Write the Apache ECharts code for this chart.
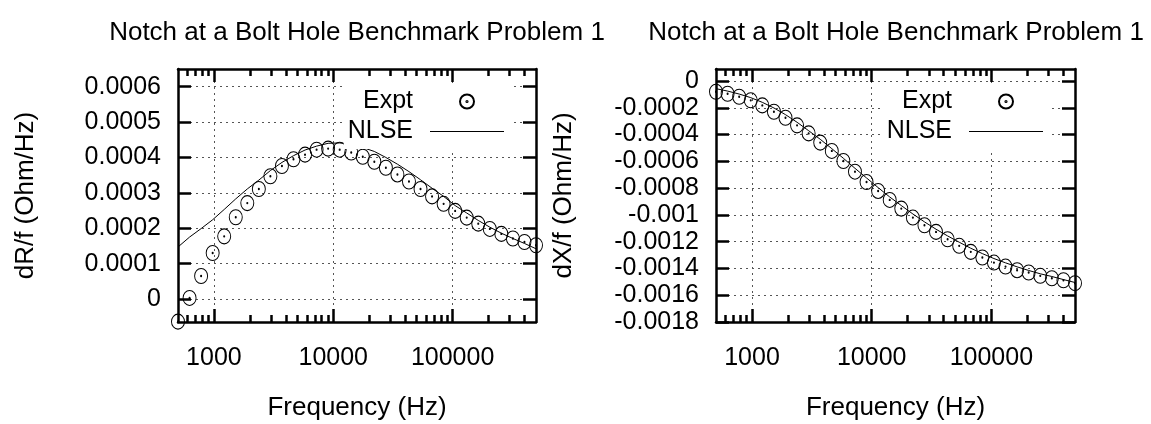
<!DOCTYPE html>
<html><head><meta charset="utf-8">
<script src="https://cdn.jsdelivr.net/npm/echarts@6/dist/echarts.min.js"></script>
<style>html,body{margin:0;padding:0;background:#fff}#c{width:1151px;height:424px}</style>
</head><body><div id="c"></div>
<script>
// ---- data ----
const freq = [500, 625, 781, 976, 1219, 1524, 1904, 2379, 2973, 3715, 4642, 5801, 7249, 9058, 11319, 14145, 17676, 22088, 27601, 34491, 43101, 53860, 67304, 84105, 105086, 131336, 164117, 205087, 256282, 320256, 400200, 500000];
const exptR = [-0.000064, 0.000003, 0.000065, 0.00013, 0.000177, 0.000231, 0.000271, 0.000311, 0.000347, 0.000376, 0.000395, 0.000408, 0.000422, 0.000425, 0.000422, 0.000414, 0.000402, 0.000388, 0.000371, 0.000352, 0.000332, 0.000311, 0.00029, 0.000269, 0.000249, 0.00023, 0.000213, 0.000198, 0.000184, 0.000171, 0.000161, 0.000152];
const nlseR = [0.000147, 0.000175, 0.000199, 0.000224, 0.000253, 0.000283, 0.000311, 0.000336, 0.000363, 0.000386, 0.000405, 0.000421, 0.000432, 0.00044, 0.000441, 0.000438, 0.000428, 0.000417, 0.0004, 0.000381, 0.00036, 0.000337, 0.000313, 0.00029, 0.000264, 0.000243, 0.000222, 0.000203, 0.000186, 0.000171, 0.000157, 0.000142];
const exptX = [-0.00008, -0.000095, -0.000117, -0.000144, -0.000182, -0.000229, -0.000274, -0.000331, -0.000391, -0.00046, -0.000522, -0.000597, -0.000677, -0.000754, -0.000821, -0.000888, -0.000953, -0.00102, -0.001077, -0.001127, -0.001182, -0.001231, -0.001276, -0.001318, -0.001356, -0.001386, -0.001413, -0.00143, -0.001455, -0.001473, -0.001488, -0.00151];
const nlseX = [-0.000057, -0.000075, -0.000097, -0.000124, -0.000159, -0.000201, -0.000251, -0.000308, -0.000371, -0.000435, -0.000505, -0.000577, -0.000652, -0.000724, -0.000796, -0.000866, -0.00093, -0.000993, -0.001052, -0.001107, -0.001157, -0.001204, -0.001249, -0.001289, -0.001326, -0.001358, -0.001388, -0.001415, -0.00144, -0.00146, -0.001483, -0.001505];

const xMajorTicks = [1000, 10000, 100000];
const xMajorLabels = ['1000', '10000', '100000'];
const xMinorTicks = [600, 700, 800, 900, 2000, 3000, 4000, 5000, 6000, 7000, 8000, 9000, 20000, 30000, 40000, 50000, 60000, 70000, 80000, 90000, 200000, 300000, 400000];
const yTicksR = [0, 0.0001, 0.0002, 0.0003, 0.0004, 0.0005, 0.0006];
const yLabelsR = ['0', '0.0001', '0.0002', '0.0003', '0.0004', '0.0005', '0.0006'];
const yTicksX = [-0.0018, -0.0016, -0.0014, -0.0012, -0.001, -0.0008, -0.0006, -0.0004, -0.0002, 0];
const yLabelsX = ['-0.0018', '-0.0016', '-0.0014', '-0.0012', '-0.001', '-0.0008', '-0.0006', '-0.0004', '-0.0002', '0'];
const titleText = 'Notch at a Bolt Hole Benchmark Problem 1';
const xName = 'Frequency (Hz)';
const yNameR = 'dR/f (Ohm/Hz)';
const yNameX = 'dX/f (Ohm/Hz)';
const seriesNames = ['Expt', 'NLSE'];

// ---- styling ----
const FONT = "'Liberation Sans', Arial, Helvetica, sans-serif";
const BLACK = '#000';
const FRAME_W = 2.5;
const ringPath = 'path://M0,-7A7,7 0 1,1 0,7A7,7 0 1,1 0,-7Z M0.6,0A0.6,0.6 0 1,1 -0.6,0A0.6,0.6 0 1,1 0.6,0Z';
const lineIcon = 'path://M0,0H74V1H0Z';
function gridLine(vals) { return { show: true, customValues: vals, lineStyle: { color: '#555', width: 1, type: [2, 4] } }; }
function tickStyle() { return { color: BLACK, width: 2.5 }; }
function frameLine() { return { show: true, onZero: false, lineStyle: { color: BLACK, width: FRAME_W } }; }

function lookup(ticks, labels) {
  return function (v) {
    for (let i = 0; i < ticks.length; i++) {
      if (Math.abs(ticks[i] - v) <= Math.abs(ticks[i]) * 1e-9 + 1e-12) return labels[i];
    }
    return '';
  };
}

function xAxesFor(g) {
  const base = () => ({ type: 'log', logBase: 10, gridIndex: g, min: 500, max: 500000, minorTick: { show: false }, minorSplitLine: { show: false } });
  return [
    Object.assign(base(), {
      position: 'bottom',
      axisLine: frameLine(),
      axisTick: { show: true, inside: true, length: 13, customValues: xMajorTicks.slice(), lineStyle: tickStyle() },
      axisLabel: { show: true, customValues: xMajorTicks.slice(), margin: 24, formatter: lookup(xMajorTicks, xMajorLabels), color: BLACK, fontSize: 25, fontFamily: FONT },
      splitLine: gridLine(xMajorTicks.slice()),
      name: xName, nameLocation: 'middle', nameGap: 73,
      nameTextStyle: { color: BLACK, fontSize: 26, fontFamily: FONT }
    }),
    Object.assign(base(), {
      position: 'bottom',
      axisLine: { show: false, onZero: false },
      axisTick: { show: true, inside: true, length: 7, customValues: xMinorTicks.slice(), lineStyle: tickStyle() },
      axisLabel: { show: false }, splitLine: { show: false }
    }),
    Object.assign(base(), {
      position: 'top',
      axisLine: frameLine(),
      axisTick: { show: true, inside: true, length: 13, customValues: xMajorTicks.slice(), lineStyle: tickStyle() },
      axisLabel: { show: false }, splitLine: { show: false }
    }),
    Object.assign(base(), {
      position: 'top',
      axisLine: { show: false, onZero: false },
      axisTick: { show: true, inside: true, length: 7, customValues: xMinorTicks.slice(), lineStyle: tickStyle() },
      axisLabel: { show: false }, splitLine: { show: false }
    })
  ];
}

function yAxesFor(g, min, max, ticks, labels, name) {
  return [
    {
      type: 'value', gridIndex: g, position: 'left', min: min, max: max,
      axisLine: frameLine(),
      axisTick: { show: true, inside: true, length: 13, customValues: ticks.slice(), lineStyle: tickStyle() },
      axisLabel: { show: true, customValues: ticks.slice(), margin: 17, formatter: lookup(ticks, labels), color: BLACK, fontSize: 25, fontFamily: FONT },
      splitLine: gridLine(ticks.slice()),
      name: name, nameLocation: 'middle', nameGap: 139,
      nameTextStyle: { color: BLACK, fontSize: 26, fontFamily: FONT }
    },
    {
      type: 'value', gridIndex: g, position: 'right', min: min, max: max,
      axisLine: frameLine(),
      axisTick: { show: true, inside: true, length: 13, customValues: ticks.slice(), lineStyle: tickStyle() },
      axisLabel: { show: false }, splitLine: { show: false }
    }
  ];
}

function seriesFor(xi, yi, expt, nlse) {
  return [
    {
      type: 'scatter', name: seriesNames[0], xAxisIndex: xi, yAxisIndex: yi,
      data: freq.map((f, i) => [f, expt[i]]),
      symbol: ringPath, symbolSize: [13, 15], clip: false, silent: true,
      itemStyle: { color: 'rgba(0,0,0,0)', borderColor: BLACK, borderWidth: 1, opacity: 1 },
      z: 3
    },
    {
      type: 'line', name: seriesNames[1], xAxisIndex: xi, yAxisIndex: yi,
      data: freq.map((f, i) => [f, nlse[i]]),
      symbol: 'none', showSymbol: false, clip: false, silent: true,
      lineStyle: { color: BLACK, width: 1 }, itemStyle: { color: BLACK },
      z: 3
    }
  ];
}

function legendFor(right) {
  return {
    orient: 'vertical', align: 'right', right: right, top: 84,
    padding: [5, 6, 5, 4], itemWidth: 74, itemHeight: 14, itemGap: 5,
    backgroundColor: '#fff', selectedMode: false,
    data: [{ name: seriesNames[0] }, { name: seriesNames[1], icon: lineIcon }],
    textStyle: { color: BLACK, fontSize: 25, fontFamily: FONT, padding: [0, 12, 0, 0] }
  };
}

const titleStyle = { color: BLACK, fontSize: 26, fontWeight: 'normal', fontFamily: FONT };

const option = {
  animation: false,
  backgroundColor: '#fff',
  title: [
    { text: titleText, left: 357, top: 20, textAlign: 'center', padding: 0, textStyle: titleStyle },
    { text: titleText, left: 896, top: 20, textAlign: 'center', padding: 0, textStyle: titleStyle }
  ],
  legend: [legendFor(641), legendFor(102)],
  grid: [
    { left: 178, top: 69, width: 358, height: 253, containLabel: false, outerBoundsMode: 'none' },
    { left: 716, top: 69, width: 359, height: 253, containLabel: false, outerBoundsMode: 'none' }
  ],
  xAxis: xAxesFor(0).concat(xAxesFor(1)),
  yAxis: yAxesFor(0, -0.000065, 0.00065, yTicksR, yLabelsR, yNameR)
    .concat(yAxesFor(1, -0.0018, 0.00009, yTicksX, yLabelsX, yNameX)),
  series: seriesFor(0, 0, exptR, nlseR).concat(seriesFor(4, 2, exptX, nlseX))
};

const chart = echarts.init(document.getElementById('c'), null, { renderer: 'canvas' });
chart.setOption(option);
</script>
</body></html>
